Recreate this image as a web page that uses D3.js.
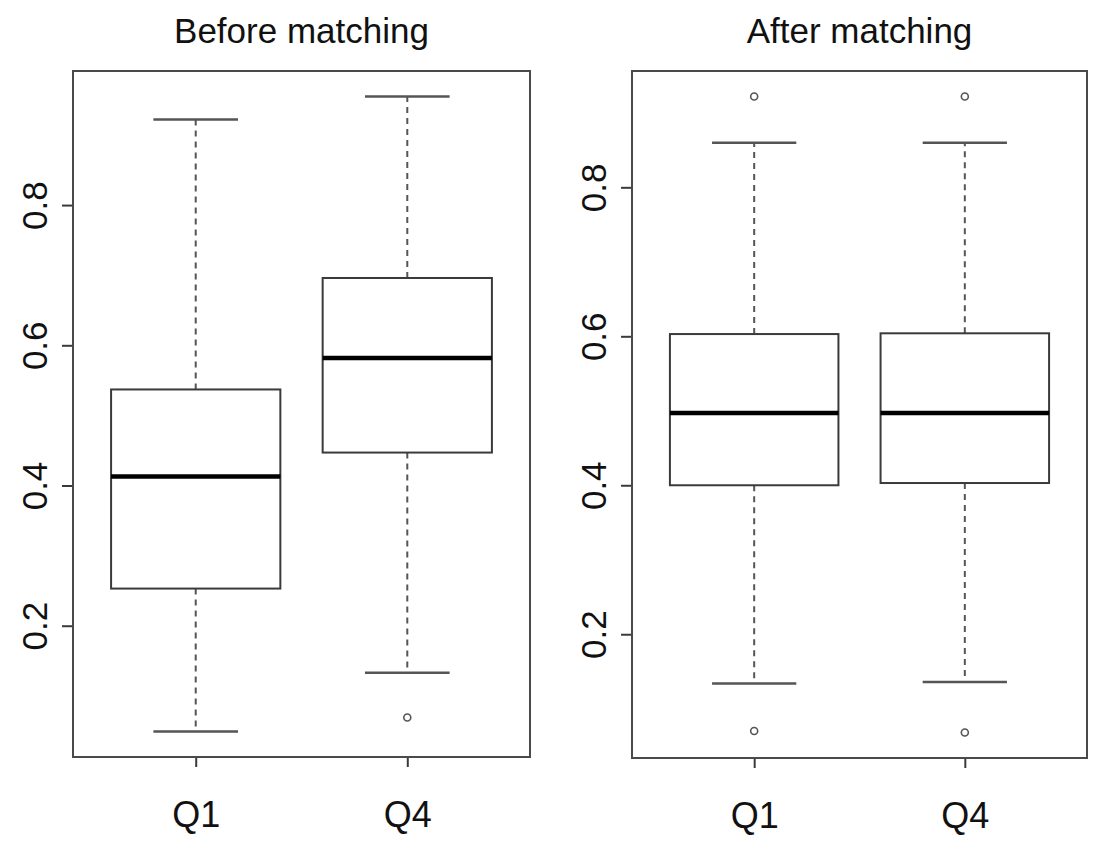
<!DOCTYPE html>
<html>
<head>
<meta charset="utf-8">
<script src="https://cdn.jsdelivr.net/npm/d3@7"></script>
<style>
  html, body { margin: 0; padding: 0; background: #fff; }
  svg { display: block; }
  text { font-family: "Liberation Sans", Arial, Helvetica, sans-serif; fill: #111; }
</style>
</head>
<body>
<svg id="chart" width="1095" height="844"></svg>
<script>
// Groups shown on the x axis of each panel
const groups = ["Q1", "Q4"];
const yTicks = [0.2, 0.4, 0.6, 0.8];

// Before matching: five-number summaries per group
const beforeLow    = [0.049, 0.133];
const beforeQ1     = [0.253, 0.447];
const beforeMedian = [0.413, 0.582];
const beforeQ3     = [0.537, 0.696];
const beforeHigh   = [0.922, 0.955];
const beforeOut    = [[], [0.069]];

// After matching: five-number summaries per group
const afterLow    = [0.134, 0.136];
const afterQ1     = [0.400, 0.403];
const afterMedian = [0.497, 0.497];
const afterQ3     = [0.603, 0.604];
const afterHigh   = [0.860, 0.860];
const afterOut    = [[0.070, 0.922], [0.068, 0.922]];

const panels = [
  { title: "Before matching", low: beforeLow, q1: beforeQ1, med: beforeMedian, q3: beforeQ3, high: beforeHigh, out: beforeOut,
    x0: 73, x1: 530, y0: 71, y1: 757 },
  { title: "After matching", low: afterLow, q1: afterQ1, med: afterMedian, q3: afterQ3, high: afterHigh, out: afterOut,
    x0: 632, x1: 1087, y0: 71, y1: 758 }
];

const svg = d3.select("#chart");
const stroke = "#3a3a3a";
const fontSize = 35;

panels.forEach(p => {
  // y limits: data range padded by 4% on each side
  const all = [...p.low, ...p.high, ...p.out.flat()];
  const lo = d3.min(all), hi = d3.max(all), pad = (hi - lo) * 0.04;
  const y = d3.scaleLinear().domain([lo - pad, hi + pad]).range([p.y1, p.y0]);
  // x positions 1..n inside [0.5, n+0.5] padded by 4%
  const n = groups.length;
  const xr = (n + 0.5) - 0.5, xpad = xr * 0.04;
  const x = d3.scaleLinear().domain([0.5 - xpad, n + 0.5 + xpad]).range([p.x0, p.x1]);
  const boxW = x(1.4) - x(0.6);   // box width 0.8 in group units
  const capW = boxW / 2;          // whisker caps are half the box width

  const g = svg.append("g");

  // Title
  g.append("text")
    .attr("x", (p.x0 + p.x1) / 2).attr("y", 43)
    .attr("text-anchor", "middle")
    .attr("font-size", fontSize)
    .text(p.title);

  // Y axis with labels rotated along the axis
  const yAxis = d3.axisLeft(y).tickValues(yTicks).tickFormat(d3.format(".1f")).tickSize(11).tickPadding(0);
  const ya = g.append("g").attr("transform", `translate(${p.x0},0)`).call(yAxis);
  ya.select(".domain").remove();
  ya.selectAll(".tick line").attr("stroke", stroke).attr("stroke-width", 2);
  ya.selectAll(".tick text")
    .attr("font-size", fontSize)
    .attr("fill", "#111")
    .attr("x", 0).attr("dy", 0)
    .attr("text-anchor", "middle")
    .attr("transform", "translate(-26,0) rotate(-90)");

  // X axis
  const xAxis = d3.axisBottom(x).tickValues(d3.range(1, n + 1)).tickFormat(i => groups[i - 1]).tickSize(10).tickPadding(34);
  const xa = g.append("g").attr("transform", `translate(0,${p.y1})`).call(xAxis);
  xa.select(".domain").remove();
  xa.selectAll(".tick line").attr("stroke", stroke).attr("stroke-width", 2);
  xa.selectAll(".tick text").attr("font-size", fontSize + 1).attr("fill", "#111").attr("dy", "0.71em");

  // Frame
  g.append("rect")
    .attr("x", p.x0).attr("y", p.y0)
    .attr("width", p.x1 - p.x0).attr("height", p.y1 - p.y0)
    .attr("fill", "none").attr("stroke", "#4a4a4a").attr("stroke-width", 2);

  groups.forEach((name, i) => {
    const cx = x(i + 1);
    // Whiskers (dashed)
    g.append("line").attr("x1", cx).attr("x2", cx)
      .attr("y1", y(p.q3[i])).attr("y2", y(p.high[i]))
      .attr("stroke", "#555").attr("stroke-width", 2).attr("stroke-dasharray", "6,5");
    g.append("line").attr("x1", cx).attr("x2", cx)
      .attr("y1", y(p.q1[i])).attr("y2", y(p.low[i]))
      .attr("stroke", "#555").attr("stroke-width", 2).attr("stroke-dasharray", "6,5");
    // Whisker caps
    [p.low[i], p.high[i]].forEach(v => {
      g.append("line").attr("x1", cx - capW / 2).attr("x2", cx + capW / 2)
        .attr("y1", y(v)).attr("y2", y(v))
        .attr("stroke", "#555").attr("stroke-width", 2.5);
    });
    // Box
    g.append("rect")
      .attr("x", cx - boxW / 2).attr("width", boxW)
      .attr("y", y(p.q3[i])).attr("height", y(p.q1[i]) - y(p.q3[i]))
      .attr("fill", "#fff").attr("stroke", stroke).attr("stroke-width", 2);
    // Median
    g.append("line").attr("x1", cx - boxW / 2).attr("x2", cx + boxW / 2)
      .attr("y1", y(p.med[i])).attr("y2", y(p.med[i]))
      .attr("stroke", "#000").attr("stroke-width", 4.5);
    // Outliers
    p.out[i].forEach(v => {
      g.append("circle").attr("cx", cx).attr("cy", y(v)).attr("r", 3.5)
        .attr("fill", "none").attr("stroke", "#555").attr("stroke-width", 1.6);
    });
  });
});
</script>
</body>
</html>
